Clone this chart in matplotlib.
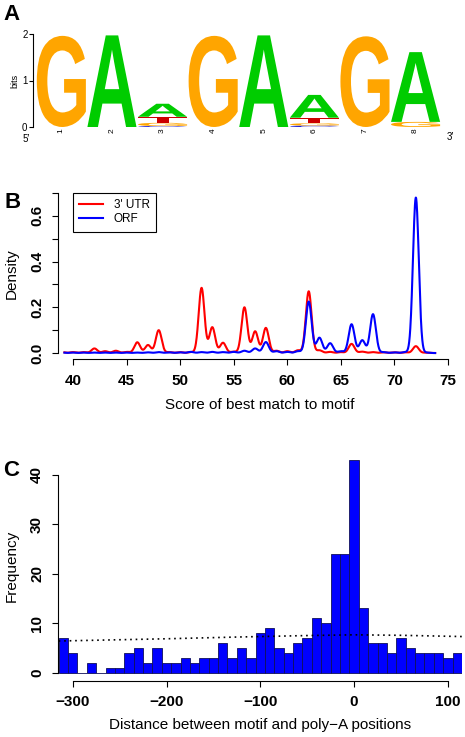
import numpy as np
import matplotlib
matplotlib.use('Agg')
import matplotlib.pyplot as plt
from matplotlib.textpath import TextPath
from matplotlib.patches import PathPatch
from matplotlib.font_manager import FontProperties
from matplotlib.lines import Line2D
import matplotlib.transforms as mtransforms

plt.rcParams['font.family'] = ['Liberation Sans', 'DejaVu Sans']

# ---------------- Panel A: sequence logo (bits) ----------------
logo_positions = [1, 2, 3, 4, 5, 6, 7, 8]
bits_A = [0.00, 1.97, 0.28, 0.00, 1.97, 0.49, 0.00, 1.50]
bits_C = [0.00, 0.00, 0.02, 0.00, 0.00, 0.03, 0.00, 0.00]
bits_G = [1.96, 0.00, 0.07, 1.96, 0.00, 0.05, 1.95, 0.11]
bits_T = [0.00, 0.00, 0.13, 0.00, 0.00, 0.12, 0.00, 0.00]
letter_colors = {'A': '#00CC00', 'C': '#0000CC', 'G': '#FFA500', 'T': '#CC0000'}

# ---------------- Panel B: density of best motif score ----------------
scores = list(range(39, 74))
utr_density = [0.004, 0.004, 0.004, 0.020, 0.008, 0.010, 0.005, 0.047, 0.035, 0.100,
               0.004, 0.004, 0.004, 0.285, 0.113, 0.045, 0.006, 0.200, 0.095, 0.110,
               0.010, 0.008, 0.012, 0.270, 0.012, 0.005, 0.004, 0.040, 0.006, 0.004,
               0.003, 0.003, 0.003, 0.030, 0.002]
orf_density = [0.002, 0.002, 0.002, 0.002, 0.002, 0.002, 0.002, 0.002, 0.003, 0.004,
               0.003, 0.003, 0.005, 0.004, 0.005, 0.004, 0.005, 0.010, 0.020, 0.048,
               0.008, 0.005, 0.008, 0.225, 0.067, 0.043, 0.008, 0.126, 0.056, 0.170,
               0.004, 0.003, 0.004, 0.680, 0.002]
kernel_bw = 0.27

# ---------------- Panel C: histogram of distances ----------------
bin_centers = list(range(-310, 111, 10))
counts = [7, 4, 0, 2, 0, 1, 1, 4, 5, 2,
          5, 2, 2, 3, 2, 3, 3, 6, 3, 5,
          3, 8, 9, 5, 4, 6, 7, 11, 10, 24,
          24, 43, 13, 6, 6, 4, 7, 5, 4, 4,
          4, 3, 4]
expected_x = [-315, -200, -125, -50, 0, 50, 115]
expected_y = [6.4, 6.85, 7.2, 7.5, 7.65, 7.55, 7.3]

W, H = 465, 737
fig = plt.figure(figsize=(W / 100, H / 100), dpi=100)


def rect(l, t, r, b):
    return [l / W, 1 - b / H, (r - l) / W, (b - t) / H]


def fx(px):
    return px / W


def fy(py):
    return 1 - py / H


BOLD = dict(fontweight='bold')

# ---- Panel A ----
axA = fig.add_axes(rect(33, 34, 451, 127))
axA.set_xlim(0.44, 8.7)
axA.set_ylim(0, 2)
fp = FontProperties(family='Liberation Sans', weight='bold')


def draw_letter(ax, ch, x, y, w, h, color):
    tp = TextPath((0, 0), ch, size=1, prop=fp)
    bb = tp.get_extents()
    t = (mtransforms.Affine2D().translate(-bb.x0, -bb.y0)
         .scale(w / bb.width, h / bb.height).translate(x, y))
    ax.add_patch(PathPatch(t.transform_path(tp), fc=color, ec='none', lw=0))


bits = {'A': bits_A, 'C': bits_C, 'G': bits_G, 'T': bits_T}
for i, p in enumerate(logo_positions):
    stack = sorted([(bits[l][i], l) for l in 'ACGT' if bits[l][i] > 0])
    y0 = 0.0
    for h, l in stack:
        draw_letter(axA, l, p - 0.485, y0, 0.97, h, letter_colors[l])
        y0 += h
    axA.text(p, -0.03, str(p), rotation=90, ha='center', va='top', fontsize=6)

for s in ['top', 'right', 'bottom']:
    axA.spines[s].set_visible(False)
axA.spines['left'].set_bounds(0, 2)
axA.spines['left'].set_linewidth(0.8)
axA.set_xticks([])
axA.set_yticks([0, 1, 2])
axA.tick_params(axis='y', length=3, width=0.8, labelsize=7, pad=1)
axA.set_ylabel('bits', fontsize=6.5, labelpad=2)
fig.text(fx(26), fy(139), '5′', fontsize=7, ha='center', va='center')
fig.text(fx(450), fy(137), '3′', fontsize=7, ha='center', va='center')

# ---- Panel B ----
axB = fig.add_axes(rect(58, 189.8, 463, 359.2))
axB.set_xlim(38.6, 76.4)
axB.set_ylim(-0.027, 0.714)
xs = np.linspace(39.2, 73.8, 2000)
sc = np.asarray(scores, float)[:, None]
utr_curve = (np.asarray(utr_density)[:, None] * np.exp(-(xs[None, :] - sc) ** 2 / (2 * kernel_bw ** 2))).sum(0)
orf_curve = (np.asarray(orf_density)[:, None] * np.exp(-(xs[None, :] - sc) ** 2 / (2 * kernel_bw ** 2))).sum(0)
axB.plot(xs, utr_curve, color='#FF0000', lw=1.5)
axB.plot(xs, orf_curve, color='#0000FF', lw=1.5)
for s in ['top', 'right']:
    axB.spines[s].set_visible(False)
axB.spines['left'].set_bounds(0, 0.7)
axB.spines['bottom'].set_bounds(40, 75)
axB.set_xticks(range(40, 76, 5))
yt = [0.0, 0.1, 0.2, 0.3, 0.4, 0.5, 0.6, 0.7]
axB.set_yticks(yt)
axB.set_yticklabels(['0.0', '', '0.2', '', '0.4', '', '0.6', ''])
axB.tick_params(axis='both', direction='out', length=4, width=0.8, labelsize=11)
axB.tick_params(axis='x', pad=7)
axB.tick_params(axis='y', pad=6, labelrotation=90)
for lab in axB.get_yticklabels():
    lab.set_fontweight('bold')
    lab.set_va('center')
for lab in axB.get_xticklabels():
    lab.set_fontweight('bold')
leg = axB.legend(handles=[Line2D([], [], color='#FF0000', lw=1.5),
                          Line2D([], [], color='#0000FF', lw=1.5)],
                 labels=["3' UTR", 'ORF'], loc='upper left',
                 bbox_to_anchor=(40.0, 0.70), bbox_transform=axB.transData,
                 borderaxespad=0, fancybox=False, edgecolor='black', framealpha=1,
                 fontsize=8.5, handlelength=2.0, handletextpad=0.9,
                 labelspacing=0.15, borderpad=0.55)
leg.get_frame().set_linewidth(0.8)
fig.text(fx(12), fy(274), 'Density', rotation=90, ha='center', va='center', fontsize=11)
fig.text(fx(260), fy(405), 'Score of best match to motif', ha='center', va='center', fontsize=11)

# ---- Panel C ----
axC = fig.add_axes(rect(58, 451.3, 462, 681.2))
axC.set_xlim(-315.7, 115.1)
axC.set_ylim(-1.72, 44.72)
axC.bar(bin_centers, counts, width=10, color='#0000FF', edgecolor='#10105A', linewidth=0.6)
axC.plot(expected_x, expected_y, color='black', lw=1.2, linestyle=(0, (1, 2.3)))
for s in ['top', 'right']:
    axC.spines[s].set_visible(False)
axC.spines['left'].set_bounds(0, 40)
axC.spines['bottom'].set_bounds(-300, 100)
axC.set_xticks([-300, -200, -100, 0, 100])
axC.set_yticks([0, 10, 20, 30, 40])
axC.tick_params(axis='both', direction='out', length=4, width=0.8, labelsize=11)
axC.tick_params(axis='x', pad=6)
axC.tick_params(axis='y', pad=6, labelrotation=90)
for lab in axC.get_yticklabels():
    lab.set_fontweight('bold')
    lab.set_va('center')
for lab in axC.get_xticklabels():
    lab.set_fontweight('bold')
fig.text(fx(12), fy(566), 'Frequency', rotation=90, ha='center', va='center', fontsize=11)
fig.text(fx(260), fy(725), 'Distance between motif and poly\u2212A positions', ha='center', va='center', fontsize=11)

# panel letters
fig.text(fx(11), fy(14), 'A', fontsize=16, ha='center', va='center', **BOLD)
fig.text(fx(13), fy(202), 'B', fontsize=16, ha='center', va='center', **BOLD)
fig.text(fx(11), fy(471), 'C', fontsize=16, ha='center', va='center', **BOLD)

fig.savefig('out.png', dpi=100)
